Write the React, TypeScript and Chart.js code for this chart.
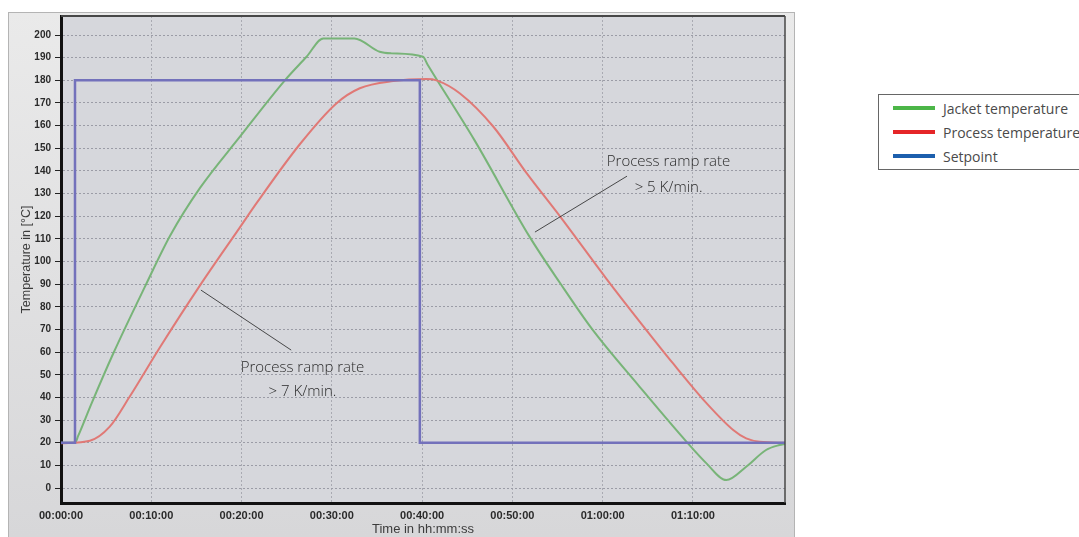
import React, { useEffect, useRef } from "react";
import { Chart, registerables } from "chart.js";

Chart.register(...registerables);

// time in minutes, temperature in °C
const jacketTime = [0, 1.55, 1.9, 3.4, 5.8, 9.3, 12.1, 15.4, 19.8, 24.8, 27.2, 29.05, 32.5, 35.3, 36.6, 40.1, 40.6, 45.8, 51.9, 55.3, 58.9, 64.1, 69.3, 71.5, 73.7, 75.9, 78.1, 79.6, 80.2];
const jacketTemp = [20, 20, 23, 37.5, 59.5, 88.9, 111.5, 132.5, 155, 180, 190.4, 198.5, 198.5, 192.6, 191.9, 190.4, 187, 153.6, 111, 90.4, 69.8, 44.7, 20.4, 10.9, 3.5, 9.4, 16.8, 19, 19.5];

const processTime = [0, 3.2, 5.4, 7.6, 11.0, 15.4, 19.8, 21.7, 26.5, 30.5, 33.1, 36.8, 40.5, 41.6, 44.2, 47.9, 51.6, 55.3, 60.4, 64.1, 67.8, 71.5, 74.5, 75.9, 77.4, 80.2];
const processTemp = [19.8, 20.9, 27.1, 40.3, 62.4, 89.5, 115, 126, 152, 169.8, 176.5, 179.7, 180.6, 180, 174.2, 159.5, 138.9, 119.8, 92.5, 73.5, 55, 37.5, 25.5, 21.9, 20.4, 20];

const setpointTime = [0, 1.55, 1.55, 39.75, 39.75, 80.2];
const setpointTemp = [20, 20, 180, 180, 20, 20];

const yTickValues = [0, 10, 20, 30, 40, 50, 60, 70, 80, 90, 100, 110, 120, 130, 140, 150, 160, 170, 180, 190, 200];
const xTickValues = [0, 10, 20, 30, 40, 50, 60, 70];

const seriesLabels = ["Jacket temperature", "Process temperature", "Setpoint"];
const legendColors = ["#4cb648", "#e52528", "#1c5fad"];

const annotationLabels = [
  { from: [15.5, 87.4], to: [25.5, 60.9], lines: [["Process ramp rate", 26.75, 53], ["> 7 K/min.", 26.75, 42.4]] },
  { from: [52.5, 113], to: [62.7, 137.7], lines: [["Process ramp rate", 67.3, 143.9], ["> 5 K/min.", 67.3, 132.5]] },
];

const pad2 = (n: number) => String(n).padStart(2, "0");
const fmtTime = (t: number) => {
  const h = Math.floor(t / 60);
  const m = Math.round(t % 60);
  return `${pad2(h)}:${pad2(m)}:00`;
};

const toPoints = (xs: number[], ys: number[]) => xs.map((x, i) => ({ x, y: ys[i] }));

const bgPlugin = {
  id: "bgPlugin",
  beforeDraw(chart: any) {
    const { ctx, width, height, chartArea } = chart;
    ctx.save();
    const g = ctx.createLinearGradient(0, 0, 0, height);
    g.addColorStop(0, "#eaeaea");
    g.addColorStop(1, "#d7d7d9");
    ctx.fillStyle = g;
    ctx.fillRect(0, 0, width, height);
    ctx.strokeStyle = "#b4b4b4";
    ctx.lineWidth = 1;
    ctx.strokeRect(0.5, 0.5, width - 1, height + 5);
    ctx.fillStyle = "#d6d7dc";
    ctx.fillRect(chartArea.left, chartArea.top, chartArea.right - chartArea.left, chartArea.bottom - chartArea.top);
    ctx.restore();
  },
  afterDraw(chart: any) {
    const { ctx, chartArea } = chart;
    ctx.save();
    ctx.strokeStyle = "#474747";
    ctx.lineWidth = 2;
    ctx.beginPath();
    ctx.moveTo(chartArea.left, chartArea.top);
    ctx.lineTo(chartArea.right, chartArea.top);
    ctx.stroke();
    ctx.lineWidth = 1.5;
    ctx.beginPath();
    ctx.moveTo(chartArea.right, chartArea.top);
    ctx.lineTo(chartArea.right, chartArea.bottom);
    ctx.stroke();
    ctx.restore();
  },
};

const annotationPlugin = {
  id: "annotationPlugin",
  afterDatasetsDraw(chart: any) {
    const { ctx, scales } = chart;
    const xs = scales.x;
    const ys = scales.y;
    ctx.save();
    for (const a of annotationLabels) {
      ctx.strokeStyle = "#222";
      ctx.lineWidth = 0.8;
      ctx.beginPath();
      ctx.moveTo(xs.getPixelForValue(a.from[0]), ys.getPixelForValue(a.from[1]));
      ctx.lineTo(xs.getPixelForValue(a.to[0]), ys.getPixelForValue(a.to[1]));
      ctx.stroke();
      ctx.fillStyle = "#2a2a2a";
      ctx.font = '300 15px "Open Sans", "Noto Sans", sans-serif';
      ctx.textAlign = "center";
      ctx.textBaseline = "middle";
      for (const [txt, tx, ty] of a.lines as any) {
        ctx.fillText(txt, xs.getPixelForValue(tx), ys.getPixelForValue(ty));
      }
    }
    ctx.restore();
  },
};

export default function App() {
  const ref = useRef<HTMLCanvasElement | null>(null);

  useEffect(() => {
    if (!ref.current) return;
    const chart = new Chart(ref.current, {
      type: "line",
      data: {
        datasets: [
          {
            label: seriesLabels[2],
            data: toPoints(setpointTime, setpointTemp),
            borderColor: "#7371bb",
            borderWidth: 2.5,
            pointRadius: 0,
            tension: 0,
            order: 0,
          },
          {
            label: seriesLabels[1],
            data: toPoints(processTime, processTemp),
            borderColor: "#e07976",
            borderWidth: 2,
            pointRadius: 0,
            cubicInterpolationMode: "monotone",
            order: 1,
          },
          {
            label: seriesLabels[0],
            data: toPoints(jacketTime, jacketTemp),
            borderColor: "#78b478",
            borderWidth: 2,
            pointRadius: 0,
            cubicInterpolationMode: "monotone",
            order: 2,
          },
        ],
      },
      options: {
        responsive: false,
        animation: false,
        devicePixelRatio: 1,
        layout: { padding: { left: 0, top: 4, right: 10, bottom: 0 } },
        plugins: { legend: { display: false }, tooltip: { enabled: false } },
        scales: {
          x: {
            type: "linear",
            min: 0,
            max: 80.2,
            afterFit: (s: any) => {
              s.height = 34;
              s.paddingLeft = 0;
              s.paddingRight = 0;
            },
            afterBuildTicks: (s: any) => {
              s.ticks = xTickValues.map((v) => ({ value: v }));
            },
            ticks: {
              callback: (v: any) => fmtTime(Number(v)),
              font: { family: '"Liberation Sans", Arial, sans-serif', size: 11, weight: "bold" },
              color: "#2a2a2a",
              padding: 6,
              maxRotation: 0,
              autoSkip: false,
            },
            grid: { color: "#a9aab2", lineWidth: 1, drawTicks: false },
            border: { display: true, color: "#111", width: 3, dash: [2, 2] },
            title: {
              display: true,
              text: "Time in hh:mm:ss",
              font: { family: '"Liberation Sans", Arial, sans-serif', size: 13 },
              color: "#3c3c3c",
              padding: { top: 0, bottom: 0 },
            },
          },
          y: {
            type: "linear",
            min: -6.6,
            max: 208.4,
            afterFit: (s: any) => {
              s.width = 53;
              s.paddingTop = 0;
              s.paddingBottom = 0;
            },
            afterBuildTicks: (s: any) => {
              s.ticks = yTickValues.map((v) => ({ value: v }));
            },
            ticks: {
              font: { family: '"Liberation Sans", Arial, sans-serif', size: 10, weight: "bold" },
              color: "#2a2a2a",
              padding: 4,
              autoSkip: false,
            },
            grid: { color: "#9b9ca6", lineWidth: 1, drawTicks: true, tickLength: 6, tickColor: "#222", tickWidth: 1 },
            border: { display: true, color: "#111", width: 3, dash: [2, 2] },
            title: {
              display: true,
              text: "Temperature in [°C]",
              font: { family: '"Liberation Sans", Arial, sans-serif', size: 12.5 },
              color: "#3c3c3c",
              padding: { top: 11, bottom: 0 },
            },
          },
        },
      } as any,
      plugins: [bgPlugin, annotationPlugin],
    });
    return () => chart.destroy();
  }, []);

  return (
    <div style={{ position: "fixed", left: 0, top: 0, width: 1079, height: 537, overflow: "hidden", background: "#fff" }}>
      <canvas ref={ref} width={787} height={525} style={{ position: "absolute", left: 8, top: 12, width: 787, height: 525 }} />
      <div
        style={{
          position: "absolute",
          left: 878,
          top: 94,
          width: 210,
          height: 76,
          border: "1px solid #666",
          background: "#fff",
          boxSizing: "border-box",
          fontFamily: '"Open Sans", "Noto Sans", sans-serif',
          fontSize: 14,
          color: "#4a4a4a",
        }}
      >
        {seriesLabels.map((lab, i) => (
          <div key={lab} style={{ position: "absolute", left: 14, top: 3 + i * 24, height: 20, display: "flex", alignItems: "center", whiteSpace: "nowrap" }}>
            <span style={{ display: "inline-block", width: 42, height: 4, background: legendColors[i], marginRight: 8 }} />
            <span>{lab}</span>
          </div>
        ))}
      </div>
    </div>
  );
}
